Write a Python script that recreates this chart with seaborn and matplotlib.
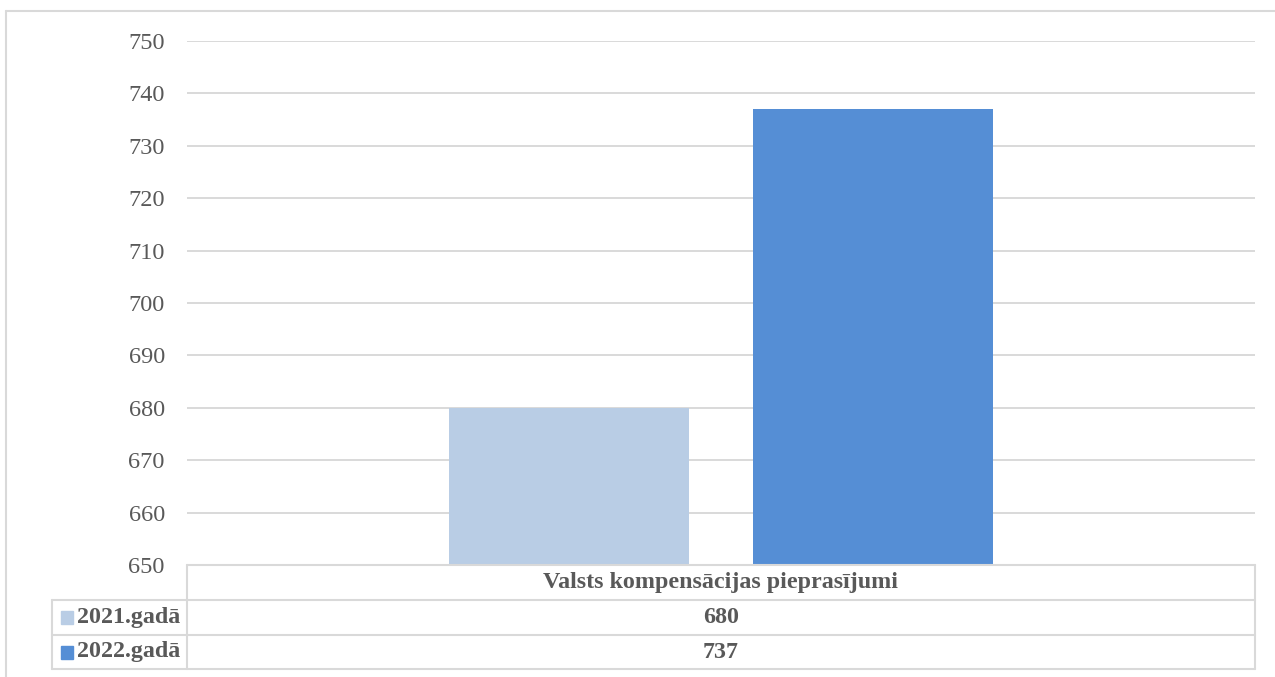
import matplotlib.pyplot as plt
import seaborn as sb
from matplotlib.lines import Line2D
from matplotlib.patches import Rectangle

# data
series = ["2021.gadā", "2022.gadā"]
values = [680, 737]
category = "Valsts kompensācijas pieprasījumi"
colors = ["#B9CDE5", "#558ED5"]
yticks = list(range(650, 751, 10))

sb.set_style("white")
plt.rcParams['font.family'] = ['Liberation Serif', 'DejaVu Serif']

W, H = 1275, 677
fig = plt.figure(figsize=(W / 100, H / 100), dpi=100)

def fx(px):
    return px / W

def fy(py):
    return 1 - py / H

# plot area
left, right, top, bottom = 187, 1255, 41, 565
ax = fig.add_axes([fx(left), fy(bottom), fx(right - left), (bottom - top) / H])
sb.barplot(x=series, y=values, hue=series, palette=colors, width=0.79,
           saturation=1, legend=False, linewidth=0, ax=ax)
ax.set_ylim(650, 750)
ax.set_xlim(-1.2566, 2.2566)
ax.set_yticks(yticks)
ax.set_yticklabels([str(t) for t in yticks], fontsize=17.5, color="#595959")
ax.tick_params(axis="y", length=0, pad=16)
ax.set_xticks([])
ax.set_xlabel("")
ax.set_ylabel("")
ax.grid(axis="y", color="#D9D9D9", lw=1.4)
ax.set_axisbelow(True)
for s in ax.spines.values():
    s.set_visible(False)

# outer chart frame
lc = "#D9D9D9"
fig.add_artist(Line2D([fx(6), fx(6)], [fy(11), fy(677)], color=lc, lw=1.5))
fig.add_artist(Line2D([fx(6), fx(1275)], [fy(11), fy(11)], color=lc, lw=1.5))

# data table
rows = [565, 600, 635, 669]
tl = 52
fig.add_artist(Line2D([fx(left), fx(right)], [fy(rows[0])] * 2, color=lc, lw=1.5))
for r in rows[1:]:
    fig.add_artist(Line2D([fx(tl), fx(right)], [fy(r)] * 2, color=lc, lw=1.5))
fig.add_artist(Line2D([fx(left)] * 2, [fy(rows[0]), fy(rows[-1])], color=lc, lw=1.5))
fig.add_artist(Line2D([fx(right)] * 2, [fy(rows[0]), fy(rows[-1])], color=lc, lw=1.5))
fig.add_artist(Line2D([fx(tl)] * 2, [fy(rows[1]), fy(rows[-1])], color=lc, lw=1.5))

tc = "#595959"
cx = (left + right) / 2
fig.text(fx(cx), fy((rows[0] + rows[1]) / 2), category, ha="center", va="center",
         fontsize=17.3, fontweight="bold", color=tc)
for i, (name, v, c) in enumerate(zip(series, values, colors)):
    ymid = (rows[i + 1] + rows[i + 2]) / 2
    fig.add_artist(Rectangle((fx(61), fy(ymid + 6.5)), 12 / W, 13 / H, color=c))
    fig.text(fx(77), fy(ymid), name, ha="left", va="center",
             fontsize=17.3, fontweight="bold", color=tc)
    fig.text(fx(cx), fy(ymid), str(v), ha="center", va="center",
             fontsize=17.3, fontweight="bold", color=tc)

plt.savefig("out.png", dpi=100)
